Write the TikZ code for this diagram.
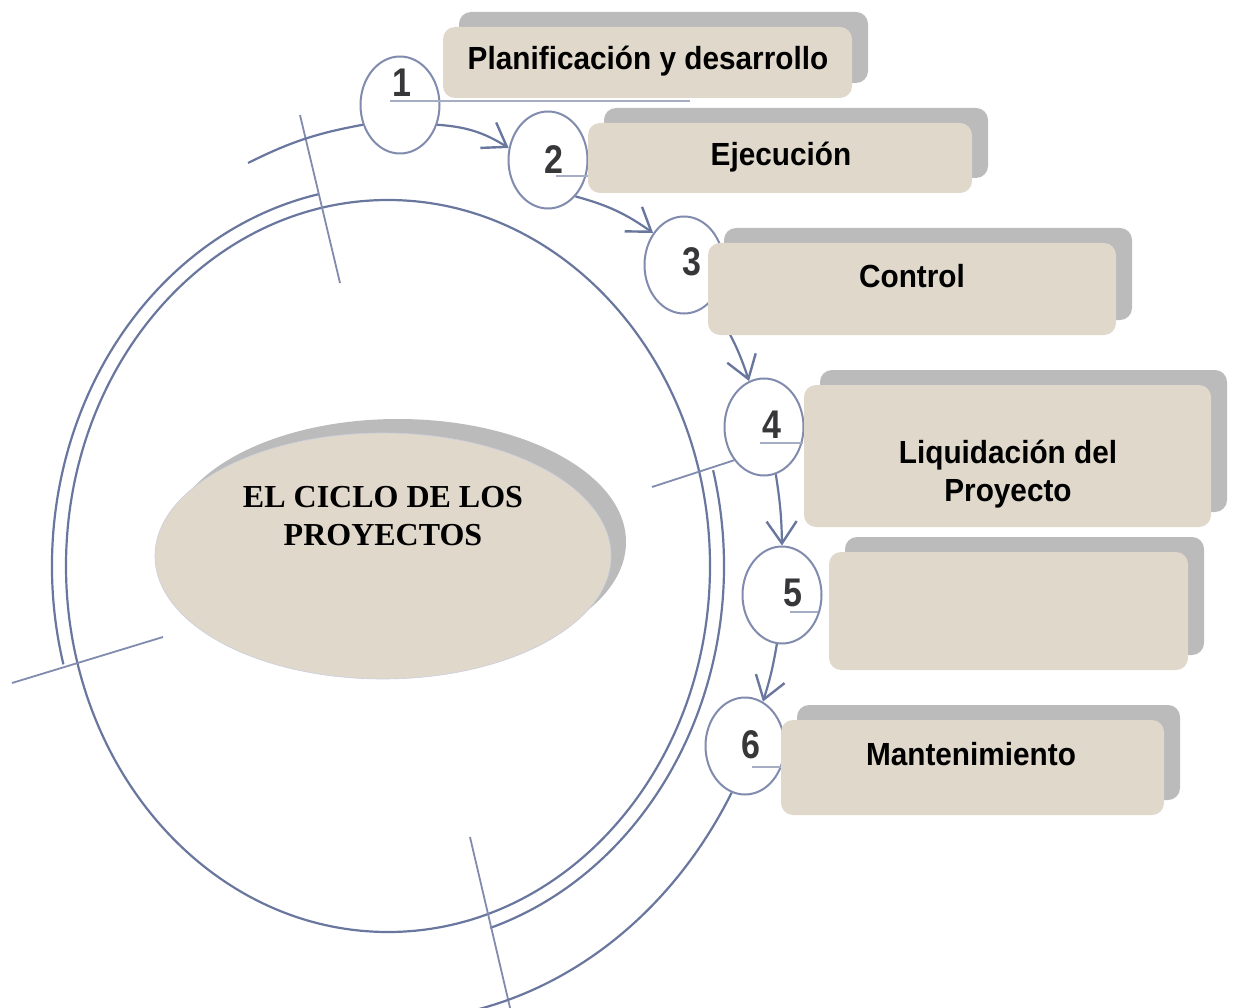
\documentclass[tikz,border=0pt]{standalone}
\usepackage{fontspec}
\setmainfont{Liberation Serif}
\newfontfamily\cardfont[FakeStretch=0.93]{Liberation Sans}
\newfontfamily\digfont[FakeStretch=0.85]{Liberation Sans}
\usetikzlibrary{shapes.geometric,shadows,arrows.meta,calc}
\definecolor{skc}{RGB}{105,118,158}
\definecolor{cardc}{RGB}{223,216,203}
\definecolor{shadc}{RGB}{187,187,187}
\definecolor{digc}{RGB}{55,55,58}
\begin{document}
\begin{tikzpicture}[x=1pt,y=1pt,
  sk/.style={draw=skc, line width=2.2pt},
  ticksk/.style={draw=skc!85, line width=1.8pt},
  thinsk/.style={draw=skc!60, line width=1.3pt},
  numc/.style={ellipse, draw=skc!85, line width=2pt, fill=white, minimum width=79pt, minimum height=97pt, inner sep=0pt},
  card/.style={rounded corners=12pt, fill=cardc, draw=none, inner sep=0pt,
    drop shadow={shadow xshift=16pt, shadow yshift=15pt, fill=shadc, opacity=1}},
  cardtext/.style={font=\cardfont\bfseries\fontsize{32}{38}\selectfont, align=center, inner sep=0pt},
  oneline/.style={text height=23pt, text depth=0pt},
  digit/.style={font=\digfont\bfseries\fontsize{40}{40}\selectfont, text=digc, inner sep=0pt},
  arr/.style={sk, -{Straight Barb[length=22pt,width=30pt,line width=2.4pt]}},
]
\useasboundingbox (0,0) rectangle (1234,-1008);
\clip (0,0) rectangle (1234,-1008);

% ---- background sketch: rings and ticks ----
\draw[sk] (388,-566) ellipse [x radius=322, y radius=366];
\draw[sk] (318.1,-194.3) arc[start angle=102, end angle=195, x radius=336, y radius=380];
\draw[sk] (713.1,-470.2) arc[start angle=14.6, end angle=-72.3, x radius=336, y radius=380];

\coordinate (tt1) at (300,-115); \coordinate (tt2) at (340,-283);
\coordinate (tl1) at (12,-683);  \coordinate (tl2) at (163,-637);
\coordinate (tr1) at (652,-487);
\coordinate (tb1) at (470,-837); \coordinate (tb2) at (511,-1012);
\coordinate (s0) at (248,-163);

\draw[ticksk] (tt1) -- (tt2);
\draw[ticksk] (tl1) -- (tl2);
\draw[ticksk] (tb1) -- (tb2);

% ---- central ellipse ----
\node[ellipse, fill=cardc, draw=skc!35, line width=0.6pt, minimum width=456pt, minimum height=246pt, inner sep=0pt,
  drop shadow={shadow xshift=15pt, shadow yshift=14pt, fill=shadc, opacity=1}] (core) at (383,-556) {};
\node[font=\bfseries\fontsize{32}{38}\selectfont, align=center, inner sep=0pt] (coretext) at (383,-516) {EL CICLO DE LOS\\PROYECTOS};

% ---- numbered circles ----
\node[numc] (c1) at (400,-105) {};
\node[numc] (c2) at (548,-160) {};
\node[numc] (c3) at (684,-265) {};
\node[numc] (c4) at (764,-427) {};
\node[numc] (c5) at (782,-595) {};
\node[numc] (c6) at (745,-746) {};

\draw[ticksk] (tr1) -- (c4.228);
\draw[sk] (s0) to[bend left=8] (c1.208);
\draw[sk] (c6.-106) arc[start angle=-30, end angle=-84, x radius=394, y radius=456];

\draw[arr] (c1.-28) to[bend left=14] (c2.163);
\draw[arr] (c2.-53) to[bend left=10] (c3.134);
\draw[arr] (c3.-55) to[bend left=8] (c4.108);
\draw[arr] (c4.-76) to[bend left=4] (c5.90);
\draw[arr] (c5.-96) to[bend left=4] (c6.68);

\draw[thinsk] (390,-101) -- (690,-101);
\draw[thinsk] (556,-176) -- (590,-176);
\draw[thinsk] (760,-443) -- (803,-443);
\draw[thinsk] (790,-612) -- (818,-612);
\draw[thinsk] (752,-767) -- (785,-767);

\node[digit] (d1) at (402,-83) {1};
\node[digit] (d2) at (554,-160) {2};
\node[digit] (d3) at (692,-262) {3};
\node[digit] (d4) at (772,-425) {4};
\node[digit] (d5) at (793,-593) {5};
\node[digit] (d6) at (751,-745) {6};

% ---- cards ----
\node[card, minimum width=409pt, minimum height=71pt] (b1) at (647.5,-62.5) {};
\node[card, minimum width=384pt, minimum height=70pt] (b2) at (780,-158) {};
\node[card, minimum width=408pt, minimum height=92pt] (b3) at (912,-289) {};
\node[card, minimum width=407pt, minimum height=142pt] (b4) at (1007.5,-456) {};
\node[card, minimum width=359pt, minimum height=118pt] (b5) at (1008.5,-611) {};
\node[card, minimum width=383pt, minimum height=95pt] (b6) at (972.5,-767.5) {};

\node[cardtext, oneline] (t1) at (648,-58) {Planificación y desarrollo};
\node[cardtext, oneline] (t2) at (781,-154) {Ejecución};
\node[cardtext, oneline] (t3) at (912,-276) {Control};
\node[cardtext] (t4) at (1008,-474) {Liquidación del\\Proyecto};
\node[cardtext, oneline] (t6) at (971,-754) {Mantenimiento};
\end{tikzpicture}
\end{document}
